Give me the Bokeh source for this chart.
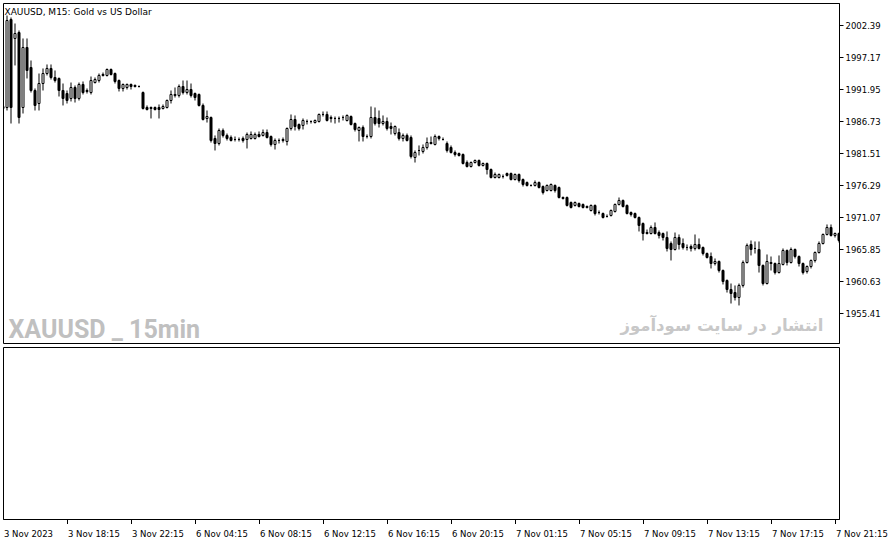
from bokeh.plotting import figure
from bokeh.layouts import column
from bokeh.models import Range1d, LinearAxis, FixedTicker, PrintfTickFormatter, Label, ColumnDataSource
from bokeh.embed import file_html
from bokeh.resources import INLINE
from bokeh.core.properties import value

# ---------------- data (XAUUSD M15) ----------------
opens = [
    1989.19, 1989.03, 2003.37, 2000.28, 2001.25, 1989.03, 1998.81, 1995.55, 1991.80, 1989.68,
    1992.94, 1994.57, 1995.39, 1993.92, 1993.76, 1991.80, 1991.31, 1990.50, 1992.29, 1990.50,
    1992.78, 1991.80, 1991.47, 1993.10, 1993.43, 1994.41, 1994.25, 1995.22, 1994.57, 1993.43,
    1992.13, 1992.29, 1992.78, 1992.62, 1992.45, 1991.47, 1989.03, 1989.03, 1989.03, 1989.03,
    1988.87, 1989.03, 1990.17, 1990.99, 1990.99, 1992.45, 1991.47, 1991.96, 1991.31, 1991.15,
    1989.36, 1987.24, 1987.40, 1983.98, 1983.16, 1985.28, 1984.47, 1984.14, 1983.81, 1983.81,
    1983.98, 1983.81, 1983.98, 1983.98, 1984.63, 1984.47, 1984.95, 1984.30, 1983.00, 1983.65,
    1983.81, 1983.49, 1985.61, 1987.07, 1986.26, 1986.10, 1986.75, 1986.75, 1986.58, 1986.75,
    1987.89, 1987.89, 1987.40, 1987.24, 1987.24, 1987.40, 1986.91, 1987.56, 1986.42, 1985.28,
    1985.77, 1984.30, 1984.30, 1987.40, 1987.24, 1986.42, 1986.75, 1985.93, 1984.79, 1984.95,
    1983.98, 1984.47, 1984.14, 1980.88, 1982.02, 1981.86, 1982.51, 1983.32, 1983.00, 1984.30,
    1983.81, 1983.16, 1982.51, 1981.69, 1981.53, 1981.37, 1980.06, 1979.41, 1980.06, 1980.39,
    1979.58, 1979.90, 1978.92, 1977.62, 1977.62, 1977.78, 1978.27, 1978.27, 1977.29, 1978.11,
    1977.29, 1976.80, 1976.32, 1976.32, 1976.80, 1976.15, 1975.50, 1975.50, 1976.32, 1975.99,
    1974.36, 1974.36, 1973.54, 1973.06, 1973.38, 1973.22, 1972.73, 1972.24, 1973.06, 1971.91,
    1971.75, 1971.26, 1971.43, 1972.08, 1973.22, 1973.87, 1973.06, 1971.91, 1971.75, 1971.10,
    1970.12, 1968.65, 1968.49, 1969.47, 1968.65, 1968.49, 1967.84, 1966.86, 1965.88, 1967.84,
    1966.86, 1966.21, 1966.37, 1966.05, 1966.70, 1966.21, 1965.23, 1964.74, 1963.60, 1963.93,
    1962.46, 1960.83, 1959.36, 1958.87, 1958.06, 1960.02, 1963.76, 1966.70, 1966.05, 1965.88,
    1963.28, 1960.34, 1963.76, 1963.60, 1962.13, 1963.44, 1965.72, 1963.76, 1965.88, 1964.74,
    1963.60, 1962.30, 1963.11, 1964.09, 1965.39, 1966.86, 1968.33, 1969.47, 1968.17, 1968.49,
]
highs = [
    1989.52, 2004.02, 2003.70, 2002.72, 2001.58, 2000.28, 2000.28, 1996.69, 1992.13, 1994.57,
    1995.39, 1996.04, 1996.04, 1995.06, 1993.92, 1992.94, 1991.80, 1993.10, 1992.62, 1993.10,
    1993.27, 1992.13, 1994.08, 1993.92, 1994.57, 1994.73, 1995.39, 1995.39, 1994.73, 1993.59,
    1992.94, 1992.94, 1992.94, 1992.78, 1992.62, 1991.64, 1989.36, 1989.19, 1989.19, 1989.52,
    1989.52, 1990.33, 1991.80, 1992.29, 1992.78, 1993.43, 1993.43, 1992.94, 1991.47, 1991.31,
    1989.68, 1988.54, 1987.56, 1984.47, 1985.61, 1985.61, 1984.79, 1984.47, 1984.30, 1984.14,
    1984.30, 1984.95, 1985.12, 1984.95, 1985.12, 1985.44, 1985.44, 1984.47, 1983.98, 1983.98,
    1984.14, 1985.77, 1987.89, 1987.73, 1986.42, 1987.24, 1987.07, 1986.91, 1987.07, 1988.05,
    1988.38, 1988.38, 1987.73, 1987.56, 1987.56, 1987.73, 1987.89, 1987.73, 1986.58, 1985.93,
    1986.10, 1984.63, 1989.19, 1989.03, 1988.54, 1987.73, 1987.40, 1986.58, 1986.10, 1985.61,
    1984.79, 1984.79, 1984.47, 1982.02, 1982.84, 1983.00, 1984.14, 1984.30, 1984.63, 1984.47,
    1984.14, 1983.49, 1982.84, 1982.02, 1981.69, 1981.53, 1980.39, 1980.23, 1980.55, 1980.55,
    1980.06, 1980.06, 1979.09, 1978.43, 1978.27, 1978.11, 1978.43, 1978.43, 1978.27, 1978.27,
    1977.46, 1976.97, 1976.48, 1977.13, 1976.97, 1976.32, 1976.48, 1976.64, 1976.48, 1976.15,
    1974.52, 1974.52, 1973.71, 1973.71, 1973.54, 1973.38, 1973.06, 1973.22, 1973.22, 1972.24,
    1971.91, 1971.59, 1972.40, 1973.38, 1974.36, 1974.03, 1973.22, 1972.08, 1971.91, 1971.26,
    1970.29, 1969.14, 1969.80, 1970.29, 1968.98, 1968.65, 1968.82, 1967.19, 1968.65, 1968.33,
    1967.68, 1966.70, 1966.70, 1968.33, 1967.68, 1966.37, 1965.39, 1965.39, 1964.42, 1964.09,
    1962.62, 1961.00, 1960.34, 1960.02, 1960.34, 1964.09, 1966.86, 1967.35, 1967.19, 1967.19,
    1963.44, 1965.07, 1964.74, 1963.76, 1964.91, 1966.05, 1965.88, 1966.21, 1966.05, 1964.91,
    1963.76, 1963.28, 1964.25, 1965.56, 1967.19, 1968.49, 1969.96, 1969.96, 1968.65, 1968.65,
]
lows = [
    1987.73, 1988.54, 1986.42, 1995.88, 1986.42, 1988.05, 1993.76, 1991.47, 1988.54, 1988.54,
    1991.80, 1994.25, 1993.59, 1993.10, 1990.82, 1989.36, 1989.68, 1990.01, 1989.84, 1990.17,
    1991.15, 1991.31, 1991.15, 1992.94, 1993.10, 1994.08, 1994.08, 1994.25, 1992.94, 1991.64,
    1991.64, 1991.96, 1991.96, 1992.29, 1992.29, 1988.70, 1988.54, 1987.24, 1988.54, 1987.24,
    1988.70, 1988.87, 1989.68, 1990.66, 1990.66, 1991.15, 1991.15, 1990.66, 1990.17, 1989.19,
    1986.91, 1986.58, 1983.32, 1982.02, 1982.84, 1984.14, 1983.65, 1983.49, 1983.49, 1983.49,
    1983.32, 1982.35, 1983.81, 1983.81, 1984.14, 1984.30, 1983.98, 1982.67, 1982.18, 1983.16,
    1983.32, 1982.84, 1985.28, 1985.28, 1985.28, 1985.44, 1986.26, 1986.42, 1986.42, 1986.58,
    1987.56, 1986.75, 1986.58, 1986.42, 1986.58, 1986.91, 1986.75, 1986.10, 1985.12, 1983.49,
    1983.49, 1983.98, 1983.98, 1986.10, 1985.77, 1986.10, 1985.28, 1984.63, 1984.47, 1983.65,
    1983.49, 1983.49, 1980.72, 1980.06, 1981.21, 1981.53, 1982.18, 1983.00, 1982.84, 1983.65,
    1983.65, 1981.69, 1981.53, 1981.04, 1981.04, 1979.74, 1979.25, 1979.25, 1979.90, 1979.41,
    1979.41, 1978.11, 1977.46, 1977.46, 1977.46, 1977.46, 1977.78, 1977.13, 1977.13, 1976.80,
    1976.15, 1976.15, 1976.15, 1976.15, 1975.83, 1974.85, 1975.34, 1975.34, 1975.17, 1974.20,
    1974.03, 1972.89, 1972.57, 1972.89, 1972.73, 1972.57, 1972.57, 1972.08, 1971.43, 1971.59,
    1970.94, 1971.10, 1971.26, 1971.91, 1973.06, 1972.73, 1971.59, 1971.26, 1970.94, 1968.82,
    1967.35, 1968.33, 1968.33, 1968.33, 1967.68, 1967.35, 1965.56, 1964.09, 1965.72, 1965.88,
    1965.88, 1965.72, 1965.56, 1965.72, 1965.88, 1964.91, 1964.42, 1962.79, 1963.28, 1962.13,
    1960.18, 1958.87, 1957.08, 1957.57, 1956.76, 1959.69, 1963.60, 1964.91, 1965.23, 1962.13,
    1960.02, 1960.18, 1962.46, 1961.81, 1961.97, 1963.28, 1963.28, 1963.60, 1964.42, 1963.11,
    1961.81, 1961.97, 1962.79, 1963.76, 1965.23, 1966.70, 1968.17, 1968.00, 1967.84, 1967.02,
]
closes = [
    1988.87, 2003.21, 1989.03, 2001.09, 1987.40, 1998.81, 1995.06, 1991.80, 1989.36, 1992.94,
    1994.57, 1995.39, 1993.92, 1993.43, 1991.80, 1990.50, 1990.17, 1992.29, 1990.50, 1992.78,
    1991.47, 1991.64, 1993.43, 1993.59, 1994.25, 1994.25, 1995.22, 1994.41, 1993.27, 1992.13,
    1992.78, 1992.78, 1992.45, 1992.45, 1992.45, 1988.87, 1988.70, 1988.87, 1988.70, 1988.70,
    1989.19, 1990.17, 1991.15, 1991.15, 1992.45, 1991.47, 1991.96, 1990.99, 1990.66, 1989.36,
    1987.07, 1987.56, 1983.65, 1983.16, 1985.28, 1984.47, 1983.98, 1983.65, 1983.81, 1983.81,
    1983.65, 1984.63, 1984.63, 1984.63, 1984.30, 1984.95, 1984.14, 1983.00, 1983.65, 1983.65,
    1983.65, 1985.61, 1987.07, 1985.93, 1985.61, 1986.91, 1986.75, 1986.75, 1986.91, 1987.89,
    1987.89, 1986.91, 1987.24, 1987.24, 1987.24, 1987.40, 1987.73, 1986.26, 1985.44, 1985.77,
    1984.30, 1984.30, 1987.40, 1986.42, 1986.42, 1986.75, 1985.61, 1985.61, 1985.93, 1983.98,
    1984.47, 1983.65, 1981.04, 1981.69, 1982.02, 1982.51, 1983.32, 1983.16, 1984.30, 1983.98,
    1983.81, 1982.02, 1981.69, 1981.37, 1981.21, 1979.90, 1979.41, 1980.06, 1980.39, 1979.58,
    1979.90, 1978.92, 1977.62, 1978.11, 1978.11, 1977.78, 1977.95, 1977.29, 1978.11, 1977.13,
    1976.48, 1976.32, 1976.32, 1976.80, 1975.99, 1975.17, 1976.32, 1976.48, 1975.50, 1974.36,
    1974.20, 1973.06, 1972.73, 1973.54, 1972.89, 1972.73, 1972.89, 1973.06, 1971.75, 1971.91,
    1971.10, 1971.26, 1972.24, 1973.22, 1973.87, 1972.89, 1971.75, 1971.59, 1971.10, 1969.80,
    1968.49, 1968.49, 1969.47, 1968.49, 1968.17, 1967.84, 1966.05, 1965.88, 1967.84, 1966.70,
    1966.21, 1966.21, 1966.05, 1966.70, 1966.05, 1965.23, 1964.58, 1963.60, 1963.93, 1962.46,
    1960.67, 1959.36, 1958.71, 1958.06, 1960.02, 1963.76, 1966.54, 1965.88, 1966.05, 1963.28,
    1960.34, 1963.93, 1963.60, 1962.13, 1963.60, 1965.72, 1963.76, 1965.88, 1964.74, 1963.60,
    1962.13, 1963.11, 1964.09, 1965.39, 1966.86, 1968.33, 1969.47, 1968.17, 1968.49, 1967.35,
]

price_ticks = [1955.41, 1960.63, 1965.85, 1971.07, 1976.29, 1981.51, 1986.73, 1991.95, 1997.17, 2002.39]
time_tick_bars = [0, 16, 32, 48, 64, 80, 96, 112, 128, 144, 160, 176, 192, 208]
time_tick_labels = ["3 Nov 2023", "3 Nov 18:15", "3 Nov 22:15", "6 Nov 04:15", "6 Nov 08:15",
                    "6 Nov 12:15", "6 Nov 16:15", "6 Nov 20:15", "7 Nov 01:15", "7 Nov 05:15",
                    "7 Nov 09:15", "7 Nov 13:15", "7 Nov 17:15", "7 Nov 21:15"]
chart_title = "XAUUSD, M15:  Gold vs US Dollar"
watermark_left = "XAUUSD _ 15min"
watermark_right = "انتشار در سایت سودآموز"

# ---------------- layout constants ----------------
LEFT = 3
FW = 836            # frame width of the panels (4 px per bar)
RIGHT = 892 - LEFT - FW
MAIN_H = 340
SUB_H = 172
PX_PER_BAR = 4.0
X0 = 0.125
X1 = X0 + FW / PX_PER_BAR
Y0, Y1 = 1950.56, 2005.98
AXIS_FONT = "DejaVu Sans"

bars = list(range(len(closes)))
src = ColumnDataSource(dict(
    x=bars,
    high=highs,
    low=lows,
    top=[max(o, c) for o, c in zip(opens, closes)],
    bottom=[min(o, c) for o, c in zip(opens, closes)],
    fill=["white" if c >= o else "black" for o, c in zip(opens, closes)],
))

common = dict(output_backend="svg", toolbar_location=None, tools="",
              x_axis_location=None, y_axis_location=None,
              background_fill_color="white", border_fill_color="white")

# ---------------- main price panel ----------------
p1 = figure(frame_width=FW, frame_height=MAIN_H,
            x_range=Range1d(X0, X1), y_range=Range1d(Y0, Y1),
            min_border_left=LEFT, min_border_right=RIGHT, min_border_top=3, min_border_bottom=2,
            outline_line_color="black", outline_line_width=1, **common)
for g in p1.grid:
    g.visible = False

yax = LinearAxis(ticker=FixedTicker(ticks=price_ticks),
                 formatter=PrintfTickFormatter(format="%.2f"),
                 major_tick_out=4, major_tick_in=0, minor_tick_line_color=None,
                 axis_line_color="black", major_tick_line_color="black",
                 major_label_standoff=2, major_label_text_font=AXIS_FONT,
                 major_label_text_font_size="8.5px", major_label_text_color="black")
p1.add_layout(yax, "right")

p1.segment(x0="x", y0="low", x1="x", y1="high", source=src, line_color="black", line_width=1)
p1.vbar(x="x", width=0.5, top="top", bottom="bottom", source=src,
        fill_color="fill", line_color="black", line_width=1)

p1.add_layout(Label(x=1, y=MAIN_H - 8, x_units="screen", y_units="screen", text=chart_title,
                    text_baseline="alphabetic",
                    text_font=AXIS_FONT, text_font_size="9px", text_color="black"))
p1.add_layout(Label(x=5, y=14, x_units="screen", y_units="screen", text=watermark_left,
                    text_baseline="alphabetic", text_font="Roboto",
                    text_font_style="bold", text_font_size="25px", text_color="#c0c0c0"))
p1.add_layout(Label(x=FW - 16, y=18, x_units="screen", y_units="screen", text=watermark_right,
                    text_align="right", text_baseline="alphabetic",
                    text_font="DejaVu Sans", text_font_style="bold",
                    text_font_size="16.5px", text_color="#c8c8c8"))

# ---------------- empty sub window ----------------
p2 = figure(frame_width=FW, frame_height=SUB_H, x_range=p1.x_range, y_range=Range1d(0, 1),
            min_border_left=LEFT, min_border_right=RIGHT, min_border_top=2, min_border_bottom=0,
            outline_line_color="black", outline_line_width=1, **common)
for g in p2.grid:
    g.visible = False
xax = LinearAxis(ticker=FixedTicker(ticks=time_tick_bars),
                 major_label_overrides={t: "" for t in time_tick_bars},
                 major_tick_out=5, major_tick_in=0, minor_tick_line_color=None,
                 axis_line_color="black", major_tick_line_color="black",
                 major_label_standoff=0, major_label_text_font_size="0px")
p2.add_layout(xax, "below")

# ---------------- time labels strip (left aligned at each tick) ----------------
LBL_W = 892 - LEFT
p3 = figure(frame_width=LBL_W, frame_height=16, x_range=Range1d(X0, X0 + LBL_W / PX_PER_BAR),
            y_range=Range1d(0, 1), min_border_left=LEFT, min_border_right=0,
            min_border_top=0, min_border_bottom=0, outline_line_color=None, **common)
for g in p3.grid:
    g.visible = False
p3.text(x=time_tick_bars, y=[1] * len(time_tick_bars), text=time_tick_labels,
        text_align="left", text_baseline="alphabetic", x_offset=1, y_offset=9,
        text_font=value(AXIS_FONT), text_font_size=value("8.5px"), text_color="black")

layout = column(p1, p2, p3, spacing=0)
open("out.html", "w").write(file_html(layout, INLINE))
